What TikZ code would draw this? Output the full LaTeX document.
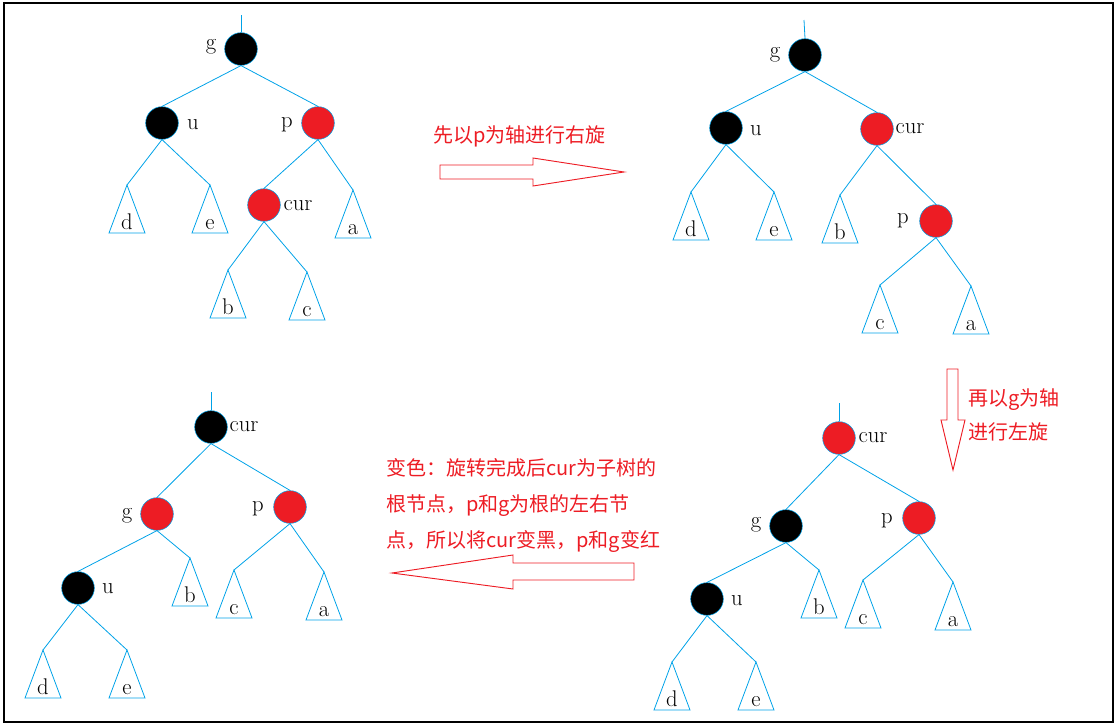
\documentclass[tikz,border=0pt]{standalone}
\usepackage{fontspec}
\newfontfamily\cjk{Noto Sans CJK SC}
\definecolor{rbred}{HTML}{ED1C24}
\definecolor{rbblue}{HTML}{00A2E8}
% a subtree drawn as a triangle: apex name, apex position, letter
\newcommand{\subtree}[3]{
  \coordinate (#1) at (#2);
  \draw[leafline] (#1) -- ++(-18,48) -- ++(36,0) -- cycle;
  \path (#1) ++(0,44) node[leaf] (#1txt) {#3};
}
\tikzset{
  rnode/.style={circle, draw=rbblue, fill=rbred, minimum size=24.5pt, inner sep=0pt},
  bnode/.style={rnode, fill=black},
  link/.style={draw=rbblue, line width=0.6pt},
  leafline/.style={link},
  leaf/.style={anchor=base, inner sep=0pt, font=\fontsize{17}{20}\selectfont},
  tag/.style={leaf},
  note/.style={text=rbred, anchor=west, inner sep=0pt, align=left},
  turn/.style={draw=rbred, line width=0.7pt, line join=miter},
}

\begin{document}
\begin{tikzpicture}[x=0.75pt, y=-0.75pt]
  \useasboundingbox (0,0) rectangle (1118,728);
  \draw[line width=1pt] (4,3) rectangle (1113,722);

  % tree 1: before rotating
  \node[bnode] (g1) at (241,49) {};
  \node[bnode] (u1) at (162,123) {};
  \node[rnode] (p1) at (318,123) {};
  \node[rnode] (cur1) at (264,205) {};
  \coordinate (top1) at (241,15);
  \subtree{d1}{127,185}{d}
  \subtree{e1}{210,185}{e}
  \subtree{a1}{353,190}{a}
  \subtree{b1}{228,270}{b}
  \subtree{c1}{307,272}{c}
  \node[tag] (g1t) at (211,50) {g};
  \node[tag] (u1t) at (193,129) {u};
  \node[tag] (p1t) at (287,127) {p};
  \node[tag] (cur1t) at (298,210) {cur};
  \draw[link] (top1) -- (g1.north);
  \foreach \a/\b in {g1/u1, g1/p1, p1/cur1}
    \draw[link] (\a.south) -- (\b.north);
  \foreach \a/\b in {u1/d1, u1/e1, p1/a1, cur1/b1, cur1/c1}
    \draw[link] (\a.south) -- (\b);

  % tree 2: after right rotation at p
  \node[bnode] (g2) at (805,55) {};
  \node[bnode] (u2) at (726,128) {};
  \node[rnode] (cur2) at (877,129) {};
  \node[rnode] (p2) at (936,221) {};
  \coordinate (top2) at (804,20);
  \subtree{d2}{691,192}{d}
  \subtree{e2}{774,192}{e}
  \subtree{b2}{840,195}{b}
  \subtree{c2}{880,285}{c}
  \subtree{a2}{971,286}{a}
  \node[tag] (g2t) at (775,57) {g};
  \node[tag] (u2t) at (756,135) {u};
  \node[tag] (cur2t) at (910,133) {cur};
  \node[tag] (p2t) at (903,223) {p};
  \draw[link] (top2) -- (g2.north);
  \foreach \a/\b in {g2/u2, g2/cur2, cur2/p2}
    \draw[link] (\a.south) -- (\b.north);
  \foreach \a/\b in {u2/d2, u2/e2, cur2/b2, p2/c2, p2/a2}
    \draw[link] (\a.south) -- (\b);

  % tree 3: after left rotation at g
  \node[rnode] (cur3) at (839,438) {};
  \node[bnode] (g3) at (786,526) {};
  \node[rnode] (p3) at (919,518) {};
  \node[bnode] (u3) at (707,599) {};
  \coordinate (top3) at (839,403);
  \subtree{b3}{819,570}{b}
  \subtree{c3}{863,580}{c}
  \subtree{a3}{953,582}{a}
  \subtree{d3}{672,662}{d}
  \subtree{e3}{756,662}{e}
  \node[tag] (cur3t) at (873,442) {cur};
  \node[tag] (g3t) at (756,527) {g};
  \node[tag] (p3t) at (887,523) {p};
  \node[tag] (u3t) at (737,605) {u};
  \draw[link] (top3) -- (cur3.north);
  \foreach \a/\b in {cur3/g3, cur3/p3, g3/u3}
    \draw[link] (\a.south) -- (\b.north);
  \foreach \a/\b in {g3/b3, p3/c3, p3/a3, u3/d3, u3/e3}
    \draw[link] (\a.south) -- (\b);

  % tree 4: recoloured
  \node[bnode] (cur4) at (211,427) {};
  \node[rnode] (g4) at (157,514) {};
  \node[rnode] (p4) at (290,507) {};
  \node[bnode] (u4) at (78,588) {};
  \coordinate (top4) at (211,392);
  \subtree{b4}{190,558}{b}
  \subtree{c4}{234,570}{c}
  \subtree{a4}{324,572}{a}
  \subtree{d4}{43,650}{d}
  \subtree{e4}{127,650}{e}
  \node[tag] (cur4t) at (244,431) {cur};
  \node[tag] (g4t) at (127,518) {g};
  \node[tag] (p4t) at (258,511) {p};
  \node[tag] (u4t) at (108,593) {u};
  \draw[link] (top4) -- (cur4.north);
  \foreach \a/\b in {cur4/g4, cur4/p4, g4/u4}
    \draw[link] (\a.south) -- (\b.north);
  \foreach \a/\b in {g4/b4, p4/c4, p4/a4, u4/d4, u4/e4}
    \draw[link] (\a.south) -- (\b);

  % steps
  \node[note, font=\cjk\fontsize{15}{18}\selectfont] (step1) at (433,136) {先以p为轴进行右旋};
  \draw[turn] (440,165) -- (533,165) -- (533,158) -- (624,172) -- (533,186) -- (533,179) -- (440,179) -- cycle;
  \node[note, font=\cjk\fontsize{15}{25.5}\selectfont] (step2) at (968,415) {再以g为轴\\进行左旋};
  \draw[turn] (947,369) -- (958,369) -- (958,420) -- (965,420) -- (953,470) -- (941,420) -- (947,420) -- cycle;
  \node[note, font=\cjk\fontsize{15}{27}\selectfont] (step3) at (386,506)
    {变色：旋转完成后cur为子树的\\根节点，p和g为根的左右节\\点，所以将cur变黑，p和g变红};
  \draw[turn] (634,563) -- (513,563) -- (513,555) -- (392,573) -- (513,589) -- (513,580) -- (634,580) -- cycle;
\end{tikzpicture}
\end{document}
